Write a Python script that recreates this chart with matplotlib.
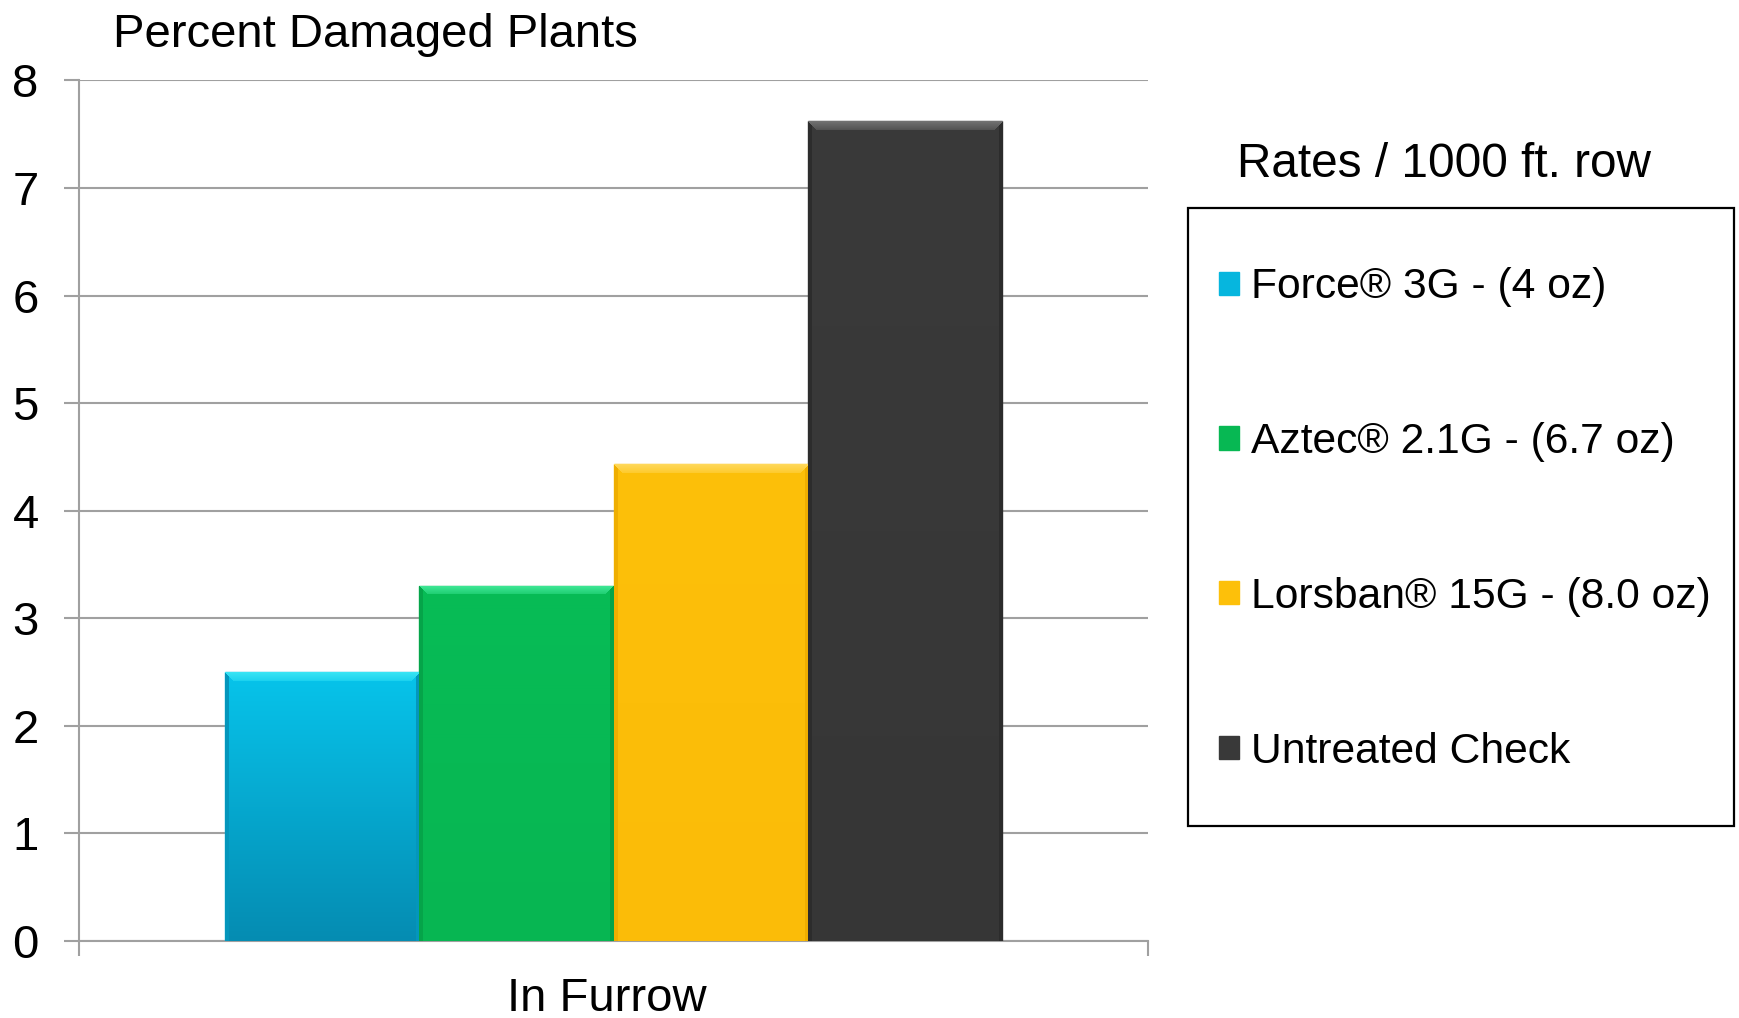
import matplotlib
matplotlib.use("Agg")
import matplotlib.pyplot as plt
from matplotlib.patches import Rectangle
from matplotlib.colors import to_rgb
from matplotlib.transforms import ScaledTranslation
import numpy as np

categories = ["In Furrow"]
series_names = ["Force® 3G - (4 oz)", "Aztec® 2.1G - (6.7 oz)",
                "Lorsban® 15G - (8.0 oz)", "Untreated Check"]
values = [2.5, 3.3, 4.43, 7.62]
colors = ["#06B6DE", "#07B853", "#FDC00A", "#393939"]
top_colors = ["#07C4EB", "#07BC56", "#FDC00A", "#3A3A3A"]
bottom_colors = ["#058CB2", "#07B652", "#FBBC08", "#363636"]
highlight_colors = ["#38E4F4", "#40E898", "#FFD85A", "#717171"]
side_colors = ["#0496BC", "#05A449", "#EFAE00", "#2C2C2C"]
yticks = [0, 1, 2, 3, 4, 5, 6, 7, 8]

plt.rcParams['font.family'] = ['Liberation Sans', 'DejaVu Sans']

fig = plt.figure(figsize=(17.4, 10.18), dpi=100)
ax = fig.add_axes([0.0454, 0.0756, 0.6146, 0.8454])
ax.set_xlim(-0.5, 0.5)
ax.set_ylim(0, 8)

n = len(series_names)
group_w = 0.727
bw = group_w / n
x0 = np.arange(len(categories))
bevel = 9
side = 4
for i, (name, v, c) in enumerate(zip(series_names, values, colors)):
    xpos = x0 - group_w / 2 + bw * (i + 0.5)
    bars = ax.bar(xpos, [v], width=bw, color=c, edgecolor=c, linewidth=1.0,
                  label=name, zorder=3)
    for b in bars:
        bx, by, bwid, bh = b.get_x(), b.get_y(), b.get_width(), b.get_height()
        p0 = ax.transData.transform((bx, by))
        p1 = ax.transData.transform((bx + bwid, by + bh))
        W = max(int(round(p1[0] - p0[0])), 2)
        H = max(int(round(p1[1] - p0[1])), 2)
        t = np.linspace(0, 1, H)[:, None]
        top = np.array(to_rgb(top_colors[i]))
        bot = np.array(to_rgb(bottom_colors[i]))
        img = (1 - t[..., None]) * top + t[..., None] * bot
        img = np.broadcast_to(img, (H, W, 3)).copy()
        yy = np.arange(H)[:, None] * np.ones((1, W))
        xx = np.ones((H, 1)) * np.arange(W)[None, :]
        dl = xx
        dr = W - 1 - xx
        sides = ((dl < side) & (dl < yy)) | ((dr < side) & (dr < yy))
        img[sides] = np.array(to_rgb(side_colors[i]))
        hl = (yy < bevel) & (yy <= dl) & (yy <= dr)
        hcol = np.array(to_rgb(highlight_colors[i]))
        frac = (yy / bevel)[..., None]
        blend = (1 - 0.6 * frac) * hcol + 0.6 * frac * top
        img[hl] = blend[hl]
        im = ax.imshow(img, aspect='auto', origin='upper', interpolation='nearest',
                       extent=(bx, bx + bwid, by, by + bh), zorder=3.5)
        im.set_clip_path(b)

ax.set_xlim(-0.5, 0.5)
ax.set_ylim(0, 8)
ax.set_yticks(yticks)
ax.set_yticklabels([str(t) for t in yticks], fontsize=34)
ax.tick_params(axis='y', length=11, width=1.5, color='#A0A0A0', pad=18)
ax.yaxis.grid(True, color='#A0A0A0', linewidth=1.5, zorder=0)
ax.set_axisbelow(True)

ax.set_xticks([0])
ax.set_xticklabels(categories, fontsize=34)
ax.set_xticks([-0.5, 0.5], minor=True)
ax.tick_params(axis='x', which='major', length=0, pad=26)
ax.tick_params(axis='x', which='minor', length=11, width=1.5, color='#A0A0A0')
for lab in ax.get_xticklabels():
    lab.set_transform(lab.get_transform() + ScaledTranslation(-0.066, 0, fig.dpi_scale_trans))

for s in ['top', 'right']:
    ax.spines[s].set_visible(False)
for s in ['left', 'bottom']:
    ax.spines[s].set_color('#A0A0A0')
    ax.spines[s].set_linewidth(1.5)

fig.text(0.065, 0.966, "Percent Damaged Plants", fontsize=34,
         ha='left', va='center')

# legend frame
fig.patches.append(Rectangle((0.683, 0.189), 0.3136, 0.607, transform=fig.transFigure,
                             facecolor='none', edgecolor='black', linewidth=1.6, zorder=-1))
fig.text(0.711, 0.8386, "Rates / 1000 ft. row", fontsize=34.4, ha='left', va='center')
leg = ax.legend(loc='center left', bbox_to_anchor=(0.7005, 0.4897),
                bbox_transform=fig.transFigure, frameon=False, fontsize=30.7,
                handlelength=0.47, handleheight=0.47, handletextpad=0.28,
                labelspacing=2.69, borderpad=0, borderaxespad=0)

fig.savefig("out.png", dpi=100)
